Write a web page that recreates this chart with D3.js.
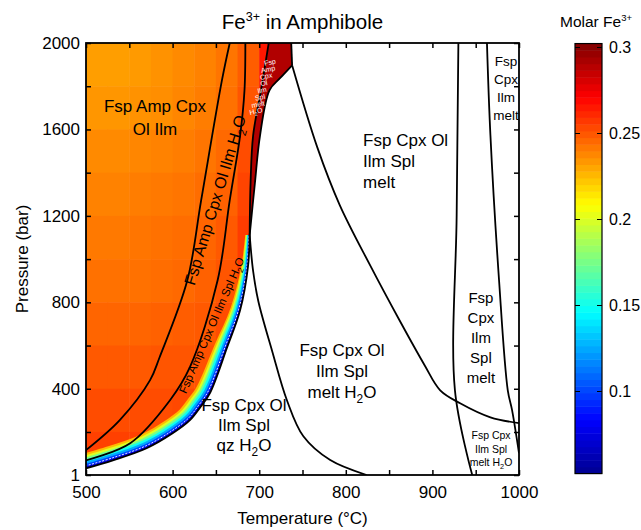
<!DOCTYPE html>
<html>
<head>
<meta charset="utf-8">
<script src="https://cdn.jsdelivr.net/npm/d3@7"></script>
<style>
    body { margin: 0; background: #fff; }
    svg { font-family: 'Liberation Sans', Arial, sans-serif; }
</style>
</head>
<body>
<svg width="641" height="530"></svg>
<script>
// molar Fe3+ in amphibole: rows are pressure bands (top = 1800-2000 bar),
// columns are 25 °C bands starting at 500 °C
const gridTemps = [500, 525, 550, 575, 600, 625, 650, 675, 700, 725]
const gridPress = [1800, 1600, 1400, 1200, 1000, 800, 600, 400, 200, 0]
const fe3Grid = [
    [0.232, 0.232, 0.233, 0.235, 0.237, 0.239, 0.242, 0.248, 0.265, 0.27],
    [0.234, 0.234, 0.235, 0.236, 0.238, 0.24, 0.243, 0.25, 0.265, 0.27],
    [0.237, 0.237, 0.238, 0.239, 0.24, 0.242, 0.245, 0.252, 0.265, 0.27],
    [0.239, 0.239, 0.24, 0.241, 0.242, 0.244, 0.247, 0.254, 0.262, 0.265],
    [0.241, 0.241, 0.242, 0.243, 0.244, 0.246, 0.249, 0.256, 0.26, 0.26],
    [0.243, 0.243, 0.243, 0.244, 0.245, 0.247, 0.25, 0.257, 0.26, 0.26],
    [0.246, 0.246, 0.246, 0.247, 0.248, 0.249, 0.252, 0.257, 0.26, 0.26],
    [0.249, 0.249, 0.249, 0.25, 0.25, 0.251, 0.254, 0.257, 0.26, 0.26],
    [0.252, 0.252, 0.252, 0.252, 0.253, 0.254, 0.256, 0.258, 0.26, 0.26],
    [0.255, 0.255, 0.255, 0.255, 0.256, 0.257, 0.258, 0.258, 0.26, 0.26],
]
// values drop towards the amphibole-out line (inner -> edge)
const edgeValues = [0.225, 0.2, 0.175, 0.15, 0.125, 0.1, 0.075]
const meltFieldValue = 0.29
const colorLimits = [0.052, 0.302]

// phase boundaries, [T (°C), P (bar)]
const lineA = [[666, 2000], [657, 1828], [633, 1273], [617, 902], [585, 546], [574, 440], [539, 255], [500, 116]]
const lineB = [[684, 2000], [683, 1780], [678, 1573], [666, 1273], [652, 902], [620, 500], [597, 347], [551, 148], [500, 69]]
const amphOut = [[500, 32], [531, 69], [570, 125], [600, 194], [620, 255], [632, 315], [643, 379], [663, 592], [678, 764], [687, 963], [689, 1111]]
const amphOutMelt = [[689, 1111], [695, 1350], [701, 1573], [712, 1782], [724, 1837], [738, 1897]]
const topStub = [[738, 1897], [737, 2000]]
const solidusHigh = [[711, 2000], [702, 1780], [693, 1573], [690, 1350], [689, 1111]]
const solidusLow = [[689, 1111], [693, 944], [699, 805], [715, 574], [732, 347], [751, 180], [782, 70], [824, 1]]
const h2oOut = [[738, 1897], [767, 1518], [793, 1250], [828, 972], [862, 717], [891, 509], [909, 393], [932, 333], [967, 268], [1000, 241]]
const olOut = [[930, 2000], [928, 1200], [926, 394], [946, 1]]
const splOut = [[963, 2000], [967, 1573], [977, 900], [987, 394], [992, 301], [1000, 102]]

const xTicks = d3.range(500, 1001, 50)
const xLabels = [500, 600, 700, 800, 900, 1000]
const yTicks = [1, 200, 400, 600, 800, 1000, 1200, 1400, 1600, 1800, 2000]
const yLabels = [1, 400, 800, 1200, 1600, 2000]
const cTicks = [0.1, 0.15, 0.2, 0.25, 0.3]

const svg = d3.select('svg')
const x = d3.scaleLinear().domain([500, 1000]).range([86, 519])
const y = d3.scaleLinear().domain([1, 2000]).range([475, 43])
const jet = d3.scaleLinear()
    .domain([0, 0.125, 0.375, 0.625, 0.875, 1])
    .range(['#000090', '#0000ff', '#00ffff', '#ffff00', '#ff0000', '#800000'])
    .clamp(true)
const color = v => jet((v - colorLimits[0]) / (colorLimits[1] - colorLimits[0]))

const line = d3.line()
    .x(d => x(d[0]))
    .y(d => y(d[1]))
    .curve(d3.curveCatmullRom.alpha(0.5))
const pxLine = d3.line().curve(d3.curveCatmullRom.alpha(0.5))

const joinPieces = pieces =>
    pieces.map((p, i) => (i ? 'L' + line(p).slice(1) : line(p))).join('') + 'Z'

const defs = svg.append('defs')
defs.append('clipPath').attr('id', 'plotClip')
    .append('rect')
    .attr('x', x(500)).attr('y', y(2000))
    .attr('width', x(1000) - x(500)).attr('height', y(1) - y(2000))

const amphPath = joinPieces([[[500, 2000], [500, 32]], amphOut, amphOutMelt, topStub, [[737, 2000], [500, 2000]]])
defs.append('clipPath').attr('id', 'amphClip').append('path').attr('d', amphPath)

// colored field
const field = svg.append('g').attr('clip-path', 'url(#amphClip)')
fe3Grid.forEach((row, r) => {
    row.forEach((v, c) => {
        const t0 = gridTemps[c]
        const p0 = gridPress[r]
        field.append('rect')
            .attr('x', x(t0))
            .attr('y', y(p0 + 200))
            .attr('width', x(t0 + 25) - x(t0) + 0.5)
            .attr('height', y(p0) - y(p0 + 200) + 0.5)
            .attr('fill', color(v))
    })
})

// low Fe3+ rim along the amphibole-out line, thinning towards high pressure
const rimPx = amphOut.map(d => [x(d[0]), y(d[1])])
const taper = p => (p <= 450 ? 1 : Math.max(0.3, 1 - 0.7 * (p - 450) / 660))
function offsetRim(dist) {
    return rimPx.map((pt, j) => {
        const a = rimPx[Math.max(j - 1, 0)]
        const b = rimPx[Math.min(j + 1, rimPx.length - 1)]
        const tx = b[0] - a[0]
        const ty = b[1] - a[1]
        const len = Math.hypot(tx, ty)
        const k = dist * taper(amphOut[j][1])
        return [pt[0] + (ty / len) * k, pt[1] - (tx / len) * k]
    })
}
const rimStep = 2.1
edgeValues.forEach((v, i) => {
    const inner = offsetRim((edgeValues.length - i) * rimStep).reverse()
    field.append('path')
        .attr('d', pxLine(rimPx) + 'L' + pxLine(inner).slice(1) + 'Z')
        .attr('fill', color(v))
})
field.append('path')
    .attr('d', pxLine(offsetRim(2.4)))
    .attr('fill', 'none')
    .attr('stroke', '#fff')
    .attr('stroke-width', 0.9)
    .attr('stroke-dasharray', '2,1.5')

// amphibole + melt field
svg.append('path')
    .attr('d', joinPieces([solidusHigh, amphOutMelt, topStub]))
    .attr('fill', color(meltFieldValue))
    .attr('clip-path', 'url(#plotClip)')

// boundaries
const lines = svg.append('g').attr('clip-path', 'url(#plotClip)')
;[lineA, lineB, amphOut, amphOutMelt, topStub, solidusHigh, solidusLow, h2oOut, olOut, splOut].forEach(l => {
    lines.append('path')
        .attr('d', line(l))
        .attr('fill', 'none')
        .attr('stroke', '#000')
        .attr('stroke-width', 1.8)
})

// axes
const axisFont = g => g.selectAll('text').attr('font-size', 17).attr('fill', '#000')
const noDomain = g => g.select('.domain').remove()

svg.append('g')
    .attr('transform', `translate(0,${y(1)})`)
    .call(d3.axisBottom(x).tickValues(xTicks).tickSize(-5).tickPadding(11)
        .tickFormat(d => (xLabels.includes(d) ? d : '')))
    .call(noDomain).call(axisFont)
svg.append('g')
    .attr('transform', `translate(0,${y(2000)})`)
    .call(d3.axisTop(x).tickValues(xTicks).tickSize(-5).tickFormat(''))
    .call(noDomain)
svg.append('g')
    .attr('transform', `translate(${x(500)},0)`)
    .call(d3.axisLeft(y).tickValues(yTicks).tickSize(-5).tickPadding(6)
        .tickFormat(d => (yLabels.includes(d) ? d : '')))
    .call(noDomain).call(axisFont)
svg.append('g')
    .attr('transform', `translate(${x(1000)},0)`)
    .call(d3.axisRight(y).tickValues(yTicks).tickSize(-5).tickFormat(''))
    .call(noDomain)
svg.selectAll('.tick line').attr('stroke', '#000').attr('stroke-width', 1.5)

svg.append('rect')
    .attr('x', x(500)).attr('y', y(2000))
    .attr('width', x(1000) - x(500)).attr('height', y(1) - y(2000))
    .attr('fill', 'none').attr('stroke', '#000').attr('stroke-width', 1.8)

// rich text helper (H2O subscript)
function richText(sel, str, fs) {
    const parts = str.split('H2O')
    parts.forEach((p, i) => {
        if (p) sel.append('tspan').text(p)
        if (i < parts.length - 1) {
            sel.append('tspan').text('H')
            sel.append('tspan').attr('dy', fs * 0.3).attr('font-size', fs * 0.7).text('2')
            sel.append('tspan').attr('dy', -fs * 0.3).text('O')
        }
    })
}

function fieldLabel(lines, t, p, fs, lh, anchor = 'middle') {
    lines.forEach((s, i) => {
        const tx = svg.append('text')
            .attr('x', x(t)).attr('y', y(p) + i * lh)
            .attr('font-size', fs).attr('text-anchor', anchor)
        richText(tx, s, fs)
    })
}

fieldLabel(['Fsp Amp Cpx', 'Ol Ilm'], 579.7, 1680, 17, 23)
fieldLabel(['Fsp Cpx Ol', 'Ilm Spl', 'melt'], 820, 1522, 17, 21, 'start')
fieldLabel(['Fsp Cpx Ol', 'Ilm Spl', 'melt H2O'], 795.6, 551, 17, 21)
fieldLabel(['Fsp Cpx Ol', 'Ilm Spl', 'qz H2O'], 682.4, 296, 17, 20)
fieldLabel(['Fsp', 'Cpx', 'Ilm', 'melt'], 985, 1893, 13.5, 18)
fieldLabel(['Fsp', 'Cpx', 'Ilm', 'Spl', 'melt'], 956, 796, 15, 20)
fieldLabel(['Fsp Cpx', 'Ilm Spl', 'melt H2O'], 967.7, 167, 10.5, 13.5)

function rotLabel(str, t, p, fs, angle) {
    const tx = svg.append('text')
        .attr('transform', `translate(${x(t)},${y(p)}) rotate(${angle})`)
        .attr('font-size', fs).attr('text-anchor', 'middle').attr('dy', '0.35em')
    richText(tx, str, fs)
}
rotLabel('Fsp Amp Cpx Ol Ilm H2O', 649, 1273, 16, -73)
rotLabel('Fsp Amp Cpx Ol Ilm Spl H2O', 645, 694, 11.5, -66.5)

// stacked label inside the amphibole + melt field
const meltWords = ['Fsp', 'Amp', 'Cpx', 'Ol', 'Ilm', 'Spl', 'melt', 'H2O']
meltWords.forEach((w, i) => {
    const tx = svg.append('text')
        .attr('transform', `translate(${x(713) - i * 2},${y(1900) + i * 7}) rotate(-12)`)
        .attr('font-size', 7).attr('text-anchor', 'middle').attr('fill', '#fff')
    richText(tx, w, 7)
})

// title and axis titles
const title = svg.append('text')
    .attr('x', (x(500) + x(1000)) / 2).attr('y', 29)
    .attr('text-anchor', 'middle').attr('font-size', 20.5)
title.append('tspan').text('Fe')
title.append('tspan').attr('dy', -8).attr('font-size', 12.5).text('3+')
title.append('tspan').attr('dy', 8).text(' in Amphibole')

svg.append('text')
    .attr('x', (x(500) + x(1000)) / 2).attr('y', 524)
    .attr('text-anchor', 'middle').attr('font-size', 17)
    .text('Temperature (°C)')
svg.append('text')
    .attr('transform', `translate(28,${(y(1) + y(2000)) / 2}) rotate(-90)`)
    .attr('text-anchor', 'middle').attr('font-size', 17)
    .text('Pressure (bar)')

// colorbar
const cy = d3.scaleLinear().domain([0.05, 0.3]).range([477, 47])
const cbX0 = 575
const cbX1 = 602
const nBands = 64
const cb = svg.append('g')
d3.range(nBands).forEach(i => {
    const v0 = colorLimits[0] + (i / nBands) * (colorLimits[1] - colorLimits[0])
    const v1 = colorLimits[0] + ((i + 1) / nBands) * (colorLimits[1] - colorLimits[0])
    cb.append('rect')
        .attr('x', cbX0).attr('width', cbX1 - cbX0)
        .attr('y', cy(v1)).attr('height', cy(v0) - cy(v1) + 0.5)
        .attr('fill', color((v0 + v1) / 2))
})
cb.append('rect')
    .attr('x', cbX0).attr('y', cy(colorLimits[1]))
    .attr('width', cbX1 - cbX0).attr('height', cy(colorLimits[0]) - cy(colorLimits[1]))
    .attr('fill', 'none').attr('stroke', '#000').attr('stroke-width', 1.2)
svg.append('g')
    .attr('transform', `translate(${cbX1},0)`)
    .call(d3.axisRight(cy).tickValues(cTicks).tickSize(-5).tickPadding(7).tickFormat(d => d))
    .call(noDomain)
    .call(g => g.selectAll('text').attr('font-size', 16).attr('fill', '#000'))
    .call(g => g.selectAll('line').attr('stroke', '#000'))
svg.append('g')
    .attr('transform', `translate(${cbX0},0)`)
    .call(d3.axisLeft(cy).tickValues(cTicks).tickSize(-5).tickFormat(''))
    .call(noDomain)
    .call(g => g.selectAll('line').attr('stroke', '#000'))

const cbTitle = svg.append('text')
    .attr('x', 596).attr('y', 27)
    .attr('text-anchor', 'middle').attr('font-size', 15.5)
cbTitle.append('tspan').text('Molar Fe')
cbTitle.append('tspan').attr('dy', -6).attr('font-size', 9.5).text('3+')
</script>
</body>
</html>
